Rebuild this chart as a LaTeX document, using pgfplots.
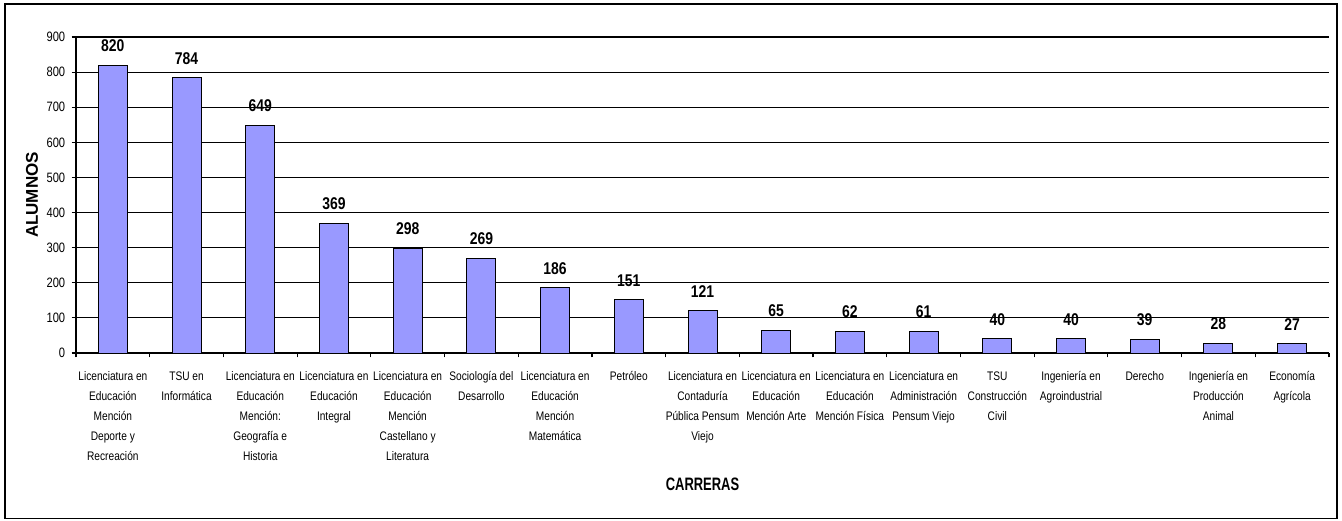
\documentclass[border=0pt]{standalone}
\usepackage{fontspec}
\setmainfont{Liberation Sans}
\newfontfamily\narrow[FakeStretch=0.82]{Liberation Sans}
\newfontfamily\narrowc[FakeStretch=0.72]{Liberation Sans}
\usepackage{pgfplots}
\pgfplotsset{compat=1.18}
\definecolor{barblue}{RGB}{153,153,255}
\begin{document}
\begin{tikzpicture}
\useasboundingbox (0,0) rectangle (671pt,260pt);
\draw[line width=0.75pt] (2.5pt,0.75pt) rectangle (668.5pt,258pt);
\begin{axis}[
  at={(38pt,83.5pt)}, anchor=south west,
  scale only axis, width=626.5pt, height=158pt,
  ybar, bar width=14.5pt,
  xmin=-0.5, xmax=16.5, ymin=0, ymax=900,
  axis x line*=bottom, axis y line*=left,
  axis line style={line width=0.7pt, -},
  tick align=outside,
  xtick={0,...,16},
  major x tick style={draw=none},
  minor xtick={-0.5,0.5,...,16.5},
  minor tick length=2.2pt,
  major tick length=2.2pt,
  tick style={black, line width=0.6pt},
  ytick={0,100,...,900},
  ymajorgrids,
  major grid style={black, line width=0.6pt},
  xticklabels={
    {Licenciatura en\\Educación\\Mención\\Deporte y\\Recreación},
    {TSU en\\Informática},
    {Licenciatura en\\Educación\\Mención:\\Geografía e\\Historia},
    {Licenciatura en\\Educación\\Integral},
    {Licenciatura en\\Educación\\Mención\\Castellano y\\Literatura},
    {Sociología del\\Desarrollo},
    {Licenciatura en\\Educación\\Mención\\Matemática},
    {Petróleo},
    {Licenciatura en\\Contaduría\\Pública Pensum\\Viejo},
    {Licenciatura en\\Educación\\Mención Arte},
    {Licenciatura en\\Educación\\Mención Física},
    {Licenciatura en\\Administración\\Pensum Viejo},
    {TSU\\Construcción\\Civil},
    {Ingeniería en\\Agroindustrial},
    {Derecho},
    {Ingeniería en\\Producción\\Animal},
    {Economía\\Agrícola}},
  /pgf/number format/assume math mode=true,
  x tick label style={font=\narrow\fontsize{6.2}{10}\selectfont, align=center, inner sep=0pt, anchor=north, yshift=-7pt},
  y tick label style={font=\narrow\fontsize{6.8}{8}\selectfont, inner sep=0pt, anchor=east, xshift=-3pt},
  ylabel={ALUMNOS},
  ylabel style={font=\bfseries\fontsize{8.5}{10}\selectfont, at={(axis description cs:-0.0351,0.5)}, anchor=center, rotate=0},
  xlabel={CARRERAS},
  xlabel style={font=\narrowc\bfseries\fontsize{9}{11}\selectfont, at={(axis description cs:0.5,-0.4146)}, anchor=center},
  nodes near coords,
  every node near coord/.append style={font=\narrow\bfseries\fontsize{8.5}{10}\selectfont, anchor=south, inner sep=0pt, yshift=6.5pt},
]
\addplot[fill=barblue, draw=black, line width=0.5pt] coordinates {
  (0,820) (1,784) (2,649) (3,369) (4,298) (5,269) (6,186) (7,151) (8,121)
  (9,65) (10,62) (11,61) (12,40) (13,40) (14,39) (15,28) (16,27)
};
\end{axis}
\end{tikzpicture}
\end{document}
